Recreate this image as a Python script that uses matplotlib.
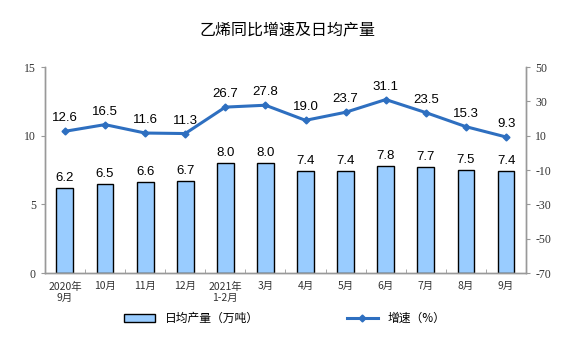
import matplotlib.pyplot as plt
from matplotlib.ticker import FixedLocator
import numpy as np

plt.rcParams['font.family'] = ['Noto Sans CJK SC', 'DejaVu Sans']
plt.rcParams['axes.unicode_minus'] = False

# Dados
meses = ['2020年\n9月', '10月', '11月', '12月', '2021年\n1-2月', '3月',
         '4月', '5月', '6月', '7月', '8月', '9月']
producao = [6.2, 6.5, 6.6, 6.7, 8.0, 8.0, 7.4, 7.4, 7.8, 7.7, 7.5, 7.4]
crescimento = [12.6, 16.5, 11.6, 11.3, 26.7, 27.8, 19.0, 23.7, 31.1, 23.5, 15.3, 9.3]

x = np.arange(len(meses))

fig = plt.figure(figsize=(5.75, 3.57), dpi=100)
ax = fig.add_axes([0.078, 0.235, 0.837, 0.577])
ax2 = ax.twinx()

barras = ax.bar(x, producao, width=0.42, color='#99CCFF', edgecolor='black',
                linewidth=1.0, label='日均产量（万吨）', zorder=2)
linha, = ax2.plot(x, crescimento, color='#2E6FC0', linewidth=2.2, marker='D',
                  markersize=3.5, label='增速（%）', zorder=3)

ax.set_xlim(-0.5, len(meses) - 0.5)
ax.set_ylim(0, 15)
ax.set_yticks([0, 5, 10, 15])
ax2.set_ylim(-70, 50)
ax2.set_yticks([-70, -50, -30, -10, 10, 30, 50])

ax.set_xticks(x)
ax.set_xticklabels(meses, fontsize=7.5, color='#333333', linespacing=1.2)
ax.xaxis.set_minor_locator(FixedLocator(np.arange(-0.5, len(meses), 1)))
ax.tick_params(axis='x', which='major', length=0, pad=6)
ax.tick_params(axis='x', which='minor', length=3, direction='in', color='#999999')
ax.tick_params(axis='y', labelsize=8.5, length=3, color='#999999', colors='#333333')
ax2.tick_params(axis='y', labelsize=8.5, length=3, color='#999999', colors='#333333')
for lab in ax.get_yticklabels() + ax2.get_yticklabels():
    lab.set_family('Liberation Serif')

for a in (ax, ax2):
    a.spines['top'].set_visible(False)
    for s in ('left', 'right', 'bottom'):
        a.spines[s].set_color('#999999')
        a.spines[s].set_linewidth(1.0)

for xi, v in zip(x, producao):
    ax.annotate(f'{v:.1f}', (xi, v), xytext=(0, 3), textcoords='offset points',
                ha='center', va='bottom', fontsize=9.5, family='Liberation Sans')
for xi, v in zip(x, crescimento):
    ax2.annotate(f'{v:.1f}', (xi, v), xytext=(0, 5), textcoords='offset points',
                 ha='center', va='bottom', fontsize=9.5, family='Liberation Sans')

fig.text(0.5, 0.915, '乙烯同比增速及日均产量', ha='center', va='center', fontsize=11.5)

fig.legend([barras, linha], ['日均产量（万吨）', '增速（%）'], loc='center',
           bbox_to_anchor=(0.495, 0.108), ncol=2, frameon=False, fontsize=8.5,
           columnspacing=7.5, handlelength=2.6, handleheight=0.6)

plt.savefig('out.png', dpi=100)
